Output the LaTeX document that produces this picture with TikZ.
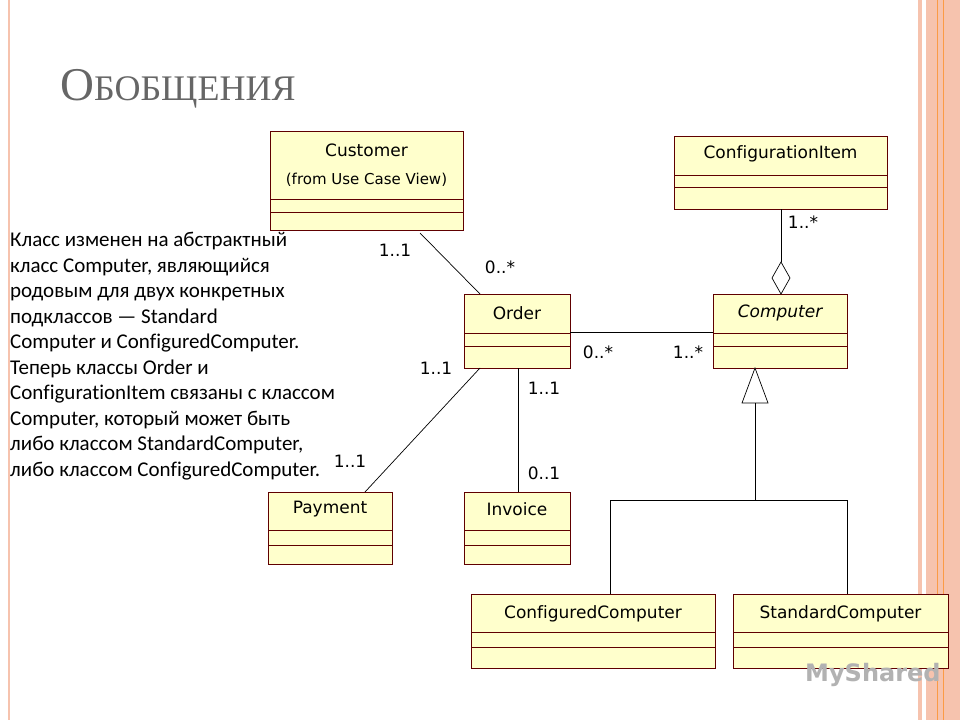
\documentclass[tikz,border=0pt]{standalone}
\usepackage{fontspec}
\setmainfont{DejaVu Sans}[Ligatures=NoCommon]
\newfontfamily\txtf{Carlito}[Ligatures=NoCommon]
\newfontfamily\ttlf{Liberation Serif}
\usetikzlibrary{shapes.geometric}
\definecolor{boxfill}{HTML}{FFFFCC}
\definecolor{boxline}{HTML}{600000}
\definecolor{pinkb}{HTML}{F6C3AE}
\begin{document}
\begin{tikzpicture}[x=1pt,y=-1pt,
 box/.style={draw=boxline,fill=boxfill,line width=0.9pt},
 sep/.style={draw=boxline,line width=0.9pt},
 nm/.style={font=\fontsize{17}{19}\selectfont,inner sep=0},
 ml/.style={font=\fontsize{17}{19}\selectfont,inner sep=0},
 cn/.style={line width=0.7pt}]
\useasboundingbox (0,0) rectangle (960,720);
\fill[white] (0,0) rectangle (960,720);
\draw[pinkb,line width=2pt] (9,0) -- (9,720);
\fill[pinkb] (918,0) rectangle (960,720);
\fill[white] (922,0) rectangle (926,720);
\draw[orange!60!pinkb,line width=0.5pt] (937,0)--(937,720) (943,0)--(943,720);
\node[anchor=base west,inner sep=0,text=gray!80!black] (title) at (60,100) {\ttlf\fontsize{47}{47}\selectfont О\fontsize{36}{36}\selectfont БОБЩЕНИЯ};
% boxes
\draw[box] (270,131) rectangle (463,230); \draw[sep] (270,199)--(463,199) (270,212)--(463,212);
\node[nm] (cust) at (366.5,150) {Customer};
\node[nm,font=\fontsize{15}{17}\selectfont] (custsub) at (366.5,180) {(from Use Case View)};
\draw[box] (674,136) rectangle (887,209); \draw[sep] (674,175)--(887,175) (674,187)--(887,187);
\node[nm] (ci) at (780.5,154) {ConfigurationItem};
\draw[box] (464,294) rectangle (570,368); \draw[sep] (464,333)--(570,333) (464,346)--(570,346);
\node[nm] (order) at (517,313) {Order};
\draw[box] (713,294) rectangle (847,368); \draw[sep] (713,333)--(847,333) (713,346)--(847,346);
\node[nm] (comp) at (780,313) {\itshape Computer};
\draw[box] (268,492) rectangle (392,564); \draw[sep] (268,530)--(392,530) (268,545)--(392,545);
\node[nm] (pay) at (330,509) {Payment};
\draw[box] (464,492) rectangle (570,564); \draw[sep] (464,530)--(570,530) (464,545)--(570,545);
\node[nm] (inv) at (517,509) {Invoice};
\draw[box] (471,594) rectangle (715,668); \draw[sep] (471,632)--(715,632) (471,647)--(715,647);
\node[nm] (cc) at (593,614) {ConfiguredComputer};
\draw[box] (733,594) rectangle (948,668); \draw[sep] (733,632)--(948,632) (733,647)--(948,647);
\node[nm] (sc) at (840.5,614) {StandardComputer};
% coordinates
\coordinate (a1) at (420,233); \coordinate (a2) at (480,294);
\coordinate (b1) at (570,332); \coordinate (b2) at (713,332);
\coordinate (c1) at (480,368); \coordinate (c2) at (365,492);
\coordinate (d1) at (518,368); \coordinate (d2) at (518,492);
\coordinate (e1) at (781,209); \coordinate (e2) at (781,262);
\coordinate (tri) at (755,368); \coordinate (t1) at (755,403);
\coordinate (h) at (755,500); \coordinate (hl) at (610,500); \coordinate (hr) at (847,500);
\coordinate (f1) at (610,594); \coordinate (f2) at (847,594);
\draw[cn] (a1)--(a2); \draw[cn] (b1)--(b2); \draw[cn] (c1)--(c2); \draw[cn] (d1)--(d2);
\draw[cn] (e1)--(e2);
\draw[cn,fill=white] (781,262)--(790,278)--(781,294)--(772,278)--cycle;
\draw[cn,fill=white] (tri)--(768,403)--(742,403)--cycle;
\draw[cn] (t1)--(h); \draw[cn] (f1)--(hl)--(hr)--(f2);
% multiplicities
\node[ml] (m1) at (395,250) {1..1};
\node[ml] (m2) at (500,267) {0..*};
\node[ml] (m3) at (598,352) {0..*};
\node[ml] (m4) at (688,352) {1..*};
\node[ml] (m5) at (436,368) {1..1};
\node[ml] (m6) at (350,461) {1..1};
\node[ml] (m7) at (544,388) {1..1};
\node[ml] (m8) at (544,473) {0..1};
\node[ml] (m9) at (803,222) {1..*};
% text
\node[anchor=north west,inner sep=0,align=left,font=\txtf\fontsize{21}{25.5}\selectfont] (txt) at (10,232) {Класс изменен на абстрактный\\класс Computer, являющийся\\родовым для двух конкретных\\подклассов — Standard\\Computer и ConfiguredComputer.\\Теперь классы Order и\\ConfigurationItem связаны с классом\\Computer, который может быть\\либо классом StandardComputer,\\либо классом ConfiguredComputer.};
\node[anchor=west,inner sep=0,text=gray!60,font=\fontsize{24}{24}\selectfont\bfseries] (wm) at (805,675) {MyShared};
\end{tikzpicture}
\end{document}
